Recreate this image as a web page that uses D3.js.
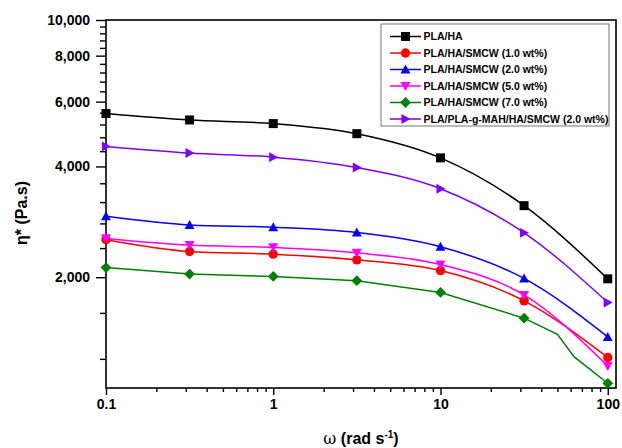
<!DOCTYPE html>
<html>
<head>
<meta charset="utf-8">
<script src="https://cdn.jsdelivr.net/npm/d3@7"></script>
<style>
  html, body { margin: 0; padding: 0; background: #fff; }
  svg { display: block; font-family: "Liberation Sans", Arial, sans-serif; }
</style>
</head>
<body>
<svg id="chart" width="622" height="448"></svg>
<script>
// Angular frequency (rad/s) at which complex viscosity was measured
const omega = [0.1, 0.316, 1, 3.16, 10, 31.6, 100];

const seriesNames = [
  "PLA/HA",
  "PLA/HA/SMCW (1.0 wt%)",
  "PLA/HA/SMCW (2.0 wt%)",
  "PLA/HA/SMCW (5.0 wt%)",
  "PLA/HA/SMCW (7.0 wt%)",
  "PLA/PLA-g-MAH/HA/SMCW (2.0 wt%)"
];

// Complex viscosity η* (Pa.s)
const etaPLAHA      = [5570, 5350, 5230, 4910, 4220, 3130, 1980];
const etaSMCW10     = [2530, 2350, 2310, 2230, 2085, 1725, 1210];
const etaSMCW20     = [2930, 2775, 2735, 2645, 2420, 1985, 1377];
const etaSMCW50     = [2550, 2445, 2410, 2330, 2165, 1790, 1148];
const etaSMCW70     = [2125, 2040, 2010, 1957, 1818, 1548, 1030];
const etaCompat20   = [4535, 4350, 4240, 3975, 3480, 2640, 1708];

// Extra measured points on the 7.0 wt% curve between markers
const omegaExtra70 = [50, 63];
const etaExtra70   = [1400, 1215];

const yMajorTicks = [2000, 4000, 6000, 8000, 10000];
const xMajorTicks = [0.1, 1, 10, 100];

const colors  = ["#000000", "#ff0000", "#0000ff", "#ff00ff", "#008000", "#7f00ff"];
const symbols = ["square", "circle", "triUp", "triDown", "diamond", "triRight"];
const values  = [etaPLAHA, etaSMCW10, etaSMCW20, etaSMCW50, etaSMCW70, etaCompat20];

const svg = d3.select("#chart");
const plotLeft = 106, plotRight = 616, plotTop = 20, plotBottom = 388;

const x = d3.scaleLog().domain([0.1, 112]).range([plotLeft, plotRight]);
const y = d3.scaleLog().domain([1000, 10000]).range([plotBottom, plotTop]);

// Minor ticks
const xMinor = [];
[0.1, 1, 10].forEach(d => { for (let k = 2; k <= 9; k++) xMinor.push(d * k); });
const yMinor = [];
for (let v = 1200; v < 10000; v += 400) if (v % 2000 !== 0) yMinor.push(v);

const xAxis = d3.axisBottom(x).tickValues(xMajorTicks).tickFormat(d => d >= 1 ? d3.format("d")(d) : "0.1").tickSize(7).tickPadding(4);
const xAxisMinor = d3.axisBottom(x).tickValues(xMinor).tickFormat("").tickSize(4);
const yAxis = d3.axisLeft(y).tickValues(yMajorTicks).tickFormat(d3.format(",")).tickSize(10).tickPadding(6);
const yAxisMinor = d3.axisLeft(y).tickValues(yMinor).tickFormat("").tickSize(6);

function styleAxis(g) {
  g.select(".domain").remove();
  g.selectAll("line").attr("stroke", "#000").attr("stroke-width", 1.4);
  g.selectAll("text").attr("fill", "#000").style("font-size", "14px").style("font-weight", "bold");
}

svg.append("g").attr("transform", `translate(0,${plotBottom})`).call(xAxisMinor).call(styleAxis);
svg.append("g").attr("transform", `translate(0,${plotBottom})`).call(xAxis).call(styleAxis);
svg.append("g").attr("transform", `translate(${plotLeft},0)`).call(yAxisMinor).call(styleAxis);
svg.append("g").attr("transform", `translate(${plotLeft},0)`).call(yAxis).call(styleAxis);

// Frame
svg.append("rect")
  .attr("x", plotLeft).attr("y", plotTop)
  .attr("width", plotRight - plotLeft).attr("height", plotBottom - plotTop)
  .attr("fill", "none").attr("stroke", "#000").attr("stroke-width", 1.6);

// Curves
const smoothLine = d3.line().x(d => x(d[0])).y(d => y(d[1])).curve(d3.curveMonotoneX);
const straightLine = d3.line().x(d => x(d[0])).y(d => y(d[1]));

function markerPath(type, s) {
  const h = s / 2;
  switch (type) {
    case "square": return `M${-h},${-h}H${h}V${h}H${-h}Z`;
    case "circle": return d3.symbol().type(d3.symbolCircle).size(s * s * 0.85)();
    case "triUp": return `M0,${-h * 1.1}L${h * 1.1},${h * 0.9}L${-h * 1.1},${h * 0.9}Z`;
    case "triDown": return `M0,${h * 1.1}L${h * 1.1},${-h * 0.9}L${-h * 1.1},${-h * 0.9}Z`;
    case "diamond": return `M0,${-h * 1.2}L${h * 1.2},0L0,${h * 1.2}L${-h * 1.2},0Z`;
    case "triRight": return `M${h * 1.1},0L${-h * 0.9},${h * 1.1}L${-h * 0.9},${-h * 1.1}Z`;
  }
}

const plot = svg.append("g");
values.forEach((vals, i) => {
  let pts = omega.map((w, j) => [w, vals[j]]);
  let gen = smoothLine;
  if (i === 4) {
    pts = pts.concat(omegaExtra70.map((w, j) => [w, etaExtra70[j]])).sort((a, b) => a[0] - b[0]);
    gen = straightLine;
  }
  plot.append("path")
    .attr("d", gen(pts))
    .attr("fill", "none")
    .attr("stroke", colors[i])
    .attr("stroke-width", 1.5);
});
values.forEach((vals, i) => {
  plot.selectAll(null)
    .data(omega.map((w, j) => [w, vals[j]]))
    .enter().append("path")
    .attr("transform", d => `translate(${x(d[0])},${y(d[1])})`)
    .attr("d", markerPath(symbols[i], 9))
    .attr("fill", colors[i]);
});

// Legend
const lg = svg.append("g");
lg.append("rect")
  .attr("x", 381).attr("y", 24).attr("width", 228).attr("height", 102)
  .attr("fill", "#fff").attr("stroke", "#777").attr("stroke-width", 1);
seriesNames.forEach((name, i) => {
  const cy = 36.5 + i * 16.5;
  lg.append("line").attr("x1", 390).attr("x2", 421).attr("y1", cy).attr("y2", cy)
    .attr("stroke", colors[i]).attr("stroke-width", 1.5);
  lg.append("path").attr("transform", `translate(405.5,${cy})`)
    .attr("d", markerPath(symbols[i], 9)).attr("fill", colors[i]);
  lg.append("text").attr("x", 423.5).attr("y", cy + 3.8)
    .style("font-size", "10.5px").style("font-weight", "bold").attr("fill", "#000")
    .text(name);
});

// Axis titles
const xt = svg.append("text")
  .attr("x", 361).attr("y", 444)
  .attr("text-anchor", "middle")
  .style("font-size", "16px").style("font-weight", "bold");
xt.append("tspan").style("font-family", "'DejaVu Serif', serif").style("font-weight", "normal").text("ω");
xt.append("tspan").text(" (rad s");
xt.append("tspan").attr("dy", -6).style("font-size", "10px").text("-1");
xt.append("tspan").attr("dy", 6).text(")");

svg.append("text")
  .attr("transform", "translate(27,213) rotate(-90)")
  .attr("text-anchor", "middle")
  .style("font-size", "16px").style("font-weight", "bold")
  .text("η* (Pa.s)");
</script>
</body>
</html>
